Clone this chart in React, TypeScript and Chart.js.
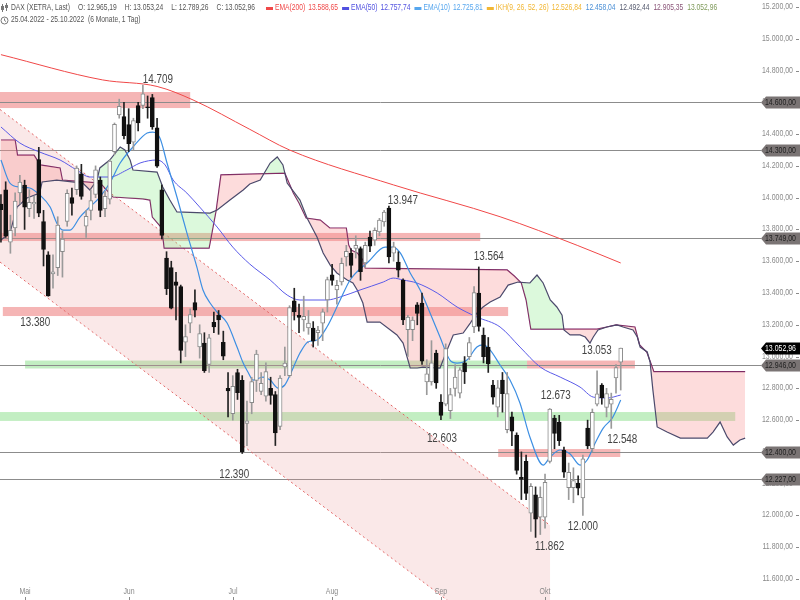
import React, { useEffect, useRef } from "react";
import { Chart, registerables } from "chart.js";

Chart.register(...registerables);

// ---------------- data (DAX daily, 25.04.2022 – 25.10.2022) ----------------
const opens = [
  13960, 14050, 13720, 13810, 14030, 14080, 13930, 13960, 14240, 13850,
  13640, 13520, 13560, 13660, 13850, 14000, 14050, 14150, 13820, 13920,
  14020, 14110, 13930, 13990, 14290, 14520, 14510, 14460, 14350, 14580,
  14580, 14570, 14630, 14440, 14050, 13620, 13560, 13470, 13440, 13090,
  13210, 13340, 13060, 13085, 12950, 13215, 13260, 13090, 12800, 12640,
  12900, 12850, 12580, 12710, 12850, 12780, 12750, 12800, 12760, 12560,
  12935, 12880, 13350, 13260, 13230, 13180, 13180, 13150, 13210, 13356,
  13515, 13420, 13470, 13627, 13650, 13680, 13680, 13590, 13752, 13733,
  13785, 13847, 13935, 13650, 13595, 13482, 13170, 13170, 13325, 13337,
  12840, 12840, 13022, 12714, 12700, 12660, 12800, 12770, 12960, 13000,
  13186, 13400, 13136, 13060, 12820, 12682, 12852, 12540, 12620, 12506,
  12240, 12340, 12015, 12130, 11990, 11990, 12340, 12613, 12588, 12412,
  12175, 12175, 12204, 12110, 12550, 12420, 12700, 12820, 12680, 12700,
  12865, 12965.19,
];
const highs = [
  14020, 14100, 13890, 14030, 14140, 14110, 14050, 14010, 14317, 13920,
  13660, 13640, 13880, 13790, 14050, 14060, 14200, 14210, 13920, 14050,
  14200, 14130, 14040, 14240, 14470, 14620, 14600, 14560, 14500, 14600,
  14709, 14640, 14650, 14500, 14080, 13660, 13600, 13530, 13450, 13200,
  13300, 13420, 13200, 13150, 13140, 13280, 13290, 13160, 12900, 12880,
  12920, 12880, 12720, 12870, 13040, 12900, 12960, 12870, 12780, 12880,
  13060, 13320, 13430, 13330, 13380, 13290, 13220, 13190, 13300, 13500,
  13580, 13480, 13620, 13700, 13680, 13760, 13690, 13720, 13790, 13810,
  13870, 13920, 13947, 13720, 13660, 13490, 13260, 13250, 13340, 13400,
  12980, 13100, 13040, 12760, 13080, 12800, 12950, 12930, 13000, 13120,
  13440, 13564, 13180, 13120, 12850, 12850, 12900, 12900, 12650, 12520,
  12400, 12380, 12200, 12180, 12180, 12260, 12673, 12630, 12630, 12430,
  12330, 12300, 12250, 12380, 12600, 12670, 12910, 12830, 12800, 12770,
  12950, 13053.24,
];
const lows = [
  13720, 13750, 13650, 13760, 13960, 13800, 13880, 13870, 13880, 13570,
  13380, 13430, 13510, 13500, 13820, 13890, 14020, 13990, 13750, 13860,
  14000, 13880, 13880, 13960, 14270, 14500, 14370, 14290, 14300, 14420,
  14560, 14500, 14430, 14190, 13740, 13390, 13300, 13230, 12960, 13000,
  13150, 13250, 12990, 12900, 12900, 13150, 13140, 12980, 12620, 12600,
  12730, 12390, 12440, 12640, 12780, 12760, 12720, 12700, 12440, 12540,
  12880, 12870, 13230, 13150, 13160, 13140, 13060, 13070, 13100, 13280,
  13450, 13330, 13450, 13570, 13500, 13620, 13480, 13560, 13660, 13700,
  13760, 13820, 13590, 13600, 13500, 13200, 13000, 13100, 13200, 12950,
  12760, 12820, 12800, 12603, 12690, 12610, 12750, 12740, 12830, 12980,
  13150, 13160, 12960, 12900, 12700, 12620, 12650, 12520, 12440, 12260,
  12100, 12100, 11900, 11862, 11880, 11920, 12330, 12420, 12440, 12240,
  12100, 12080, 12130, 12000, 12420, 12400, 12690, 12700, 12620, 12548,
  12770, 12789.26,
];
const closes = [
  13924, 13757, 13794, 13979, 14098, 13940, 13970, 13971, 13902, 13674,
  13381, 13534, 13828, 13739, 14027, 13964, 14186, 14008, 13882, 13981,
  14175, 13920, 14008, 14231, 14462, 14575, 14390, 14340, 14485, 14470,
  14653, 14566, 14446, 14198, 13762, 13427, 13304, 13447, 13038, 13126,
  13265, 13292, 13144, 12912, 13118, 13186, 13231, 13003, 12784, 12813,
  12773, 12401, 12595, 12843, 13015, 12832, 12905, 12756, 12519, 12864,
  12959, 13308, 13281, 13246, 13253, 13210, 13097, 13166, 13282, 13484,
  13479, 13449, 13587, 13662, 13573, 13700, 13534, 13700, 13694, 13795,
  13859, 13910, 13627, 13690, 13544, 13230, 13249, 13230, 13271, 12971,
  12892, 12961, 12834, 12630, 13050, 12761, 12871, 12916, 12904, 13088,
  13402, 13189, 13000, 12956, 12745, 12803, 12767, 12767, 12531, 12284,
  12227, 12139, 12183, 11976, 12114, 12209, 12670, 12517, 12471, 12273,
  12272, 12219, 12172, 12356, 12438, 12649, 12766, 12741, 12767, 12731,
  12931, 13052.96,
];

const monthIdx = [5, 27, 49, 70, 93, 115];
const monthNames = ["Mai", "Jun", "Jul", "Aug", "Sep", "Okt"];
const yTickValues = [
  15200, 15000, 14800, 14600, 14400, 14200, 14000, 13800, 13600, 13400,
  13200, 13000, 12800, 12600, 12400, 12200, 12000, 11800, 11600,
];

const ema200Idx = [0, 21.5, 33, 40.6, 52.6, 61, 83, 105.5, 121.8, 131];
const ema200Val = [14900, 14741, 14700, 14615, 14430, 14300, 14080, 13880, 13700, 13589];

const ema50Idx = [0, 4, 8.2, 12.5, 16, 18.8, 23, 26.6, 29.4, 33, 34.7, 36.4, 39.3, 42, 45.7, 49, 52.6, 56.9, 60.5, 63.2, 68.9, 71.7, 75.9, 80.8, 82.9, 85, 87.9, 92.2, 96.4, 100.6, 105.5, 109.7, 114, 118.2, 122.4, 125.2, 128.1, 131];
const ema50Val = [14445, 14344, 14287, 14237, 14174, 14130, 14130, 14174, 14218, 14237, 14206, 14111, 14029, 13941, 13815, 13689, 13582, 13482, 13387, 13356, 13356, 13375, 13419, 13469, 13494, 13482, 13463, 13400, 13312, 13249, 13186, 13060, 12934, 12871, 12808, 12745, 12739, 12758];

const ema10Idx = [0, 1.9, 4, 6.1, 8.2, 10.4, 11.8, 13.1, 14.6, 16.7, 18.8, 20.9, 23, 25.2, 27.9, 30.9, 32.1, 33.6, 35.1, 37.2, 39.3, 41.4, 42.7, 44.2, 45.7, 47.8, 49.9, 51.2, 52.2, 53.3, 55.4, 56.9, 58.6, 60, 61.1, 63.2, 64.9, 66.8, 68.9, 71.7, 73.8, 77.6, 81.2, 82.9, 84.4, 86.5, 88.6, 90.7, 92.8, 94.9, 96.4, 98.5, 100.6, 101.9, 103.4, 105.5, 107.6, 109.7, 111.8, 114.6, 116.1, 118.2, 120.3, 122.4, 123.9, 125.6, 127.3, 129.2, 131];
const ema10Val = [14237, 14092, 14067, 14061, 14017, 13941, 13840, 13796, 13796, 13878, 13941, 14004, 14092, 14218, 14319, 14407, 14413, 14375, 14218, 14004, 13778, 13564, 13419, 13337, 13280, 13211, 13060, 12959, 12903, 12852, 12871, 12852, 12802, 12821, 12884, 13022, 13092, 13104, 13186, 13356, 13482, 13595, 13689, 13689, 13652, 13526, 13419, 13274, 13123, 12978, 12959, 12978, 13060, 13073, 13041, 12947, 12852, 12708, 12494, 12317, 12368, 12412, 12387, 12317, 12349, 12456, 12550, 12613, 12726];

// Ichimoku cloud (Senkou Span A / B, shifted 26 days ahead)
const spanAIdx = [0, 1.9, 3.4, 5.5, 8.2, 8.7, 11.8, 17.3, 18.8, 20.3, 20.9, 23, 25.2, 26.2, 27.3, 27.9, 33, 34.2, 35.7, 37.2, 44.2, 45.7, 48.4, 51.2, 52.6, 54.8, 56.9, 58.4, 59.6, 60.5, 63.2, 64.7, 66.8, 68.1, 69.6, 71, 73.2, 74.4, 75.3, 76.5, 77.4, 80.1, 83.7, 85, 86.5, 88, 89.2, 92.8, 94.3, 95.6, 97.7, 99.2, 100.6, 101.9, 103.4, 105.5, 107.2, 109.3, 111.8, 113.3, 114.6, 116.1, 117.5, 118.6, 119, 120.3, 122.4, 123.5, 124.5, 125.2, 126.2, 128.1, 130.2, 131.5, 133.6, 134.5, 135.1, 136.6, 137.2, 137.8, 138.7, 140.8, 143.6, 149.3, 150.5, 152, 153.5, 154.8, 156.2, 157.3];
const spanAVal = [13734, 13778, 13941, 13998, 14029, 14099, 14111, 14092, 14048, 14111, 14187, 14237, 14319, 14300, 14237, 14174, 14161, 14067, 13985, 13910, 13903, 13922, 13985, 14048, 14086, 14111, 14218, 14256, 14206, 14092, 13985, 13872, 13752, 13652, 13576, 13526, 13482, 13463, 13419, 13337, 13217, 13217, 13136, 13085, 12928, 12928, 12934, 12928, 13041, 13136, 13148, 13211, 13274, 13312, 13343, 13375, 13450, 13469, 13463, 13513, 13463, 13356, 13312, 13261, 13167, 13136, 13136, 13123, 13085, 13123, 13167, 13186, 13199, 13186, 13167, 13123, 13060, 13029, 12966, 12789, 12557, 12525, 12487, 12487, 12525, 12588, 12494, 12443, 12475, 12487];
const spanBIdx = [0, 3, 3.5, 7, 8.3, 12.5, 13, 21, 23.7, 30, 31.5, 32, 34, 34.5, 44, 45.5, 46.5, 60, 61.8, 63, 64.5, 67.5, 69.5, 73, 73.5, 74, 75.3, 76.5, 77, 107, 108.5, 110, 111, 112, 119, 126, 128, 130, 134, 135, 136.5, 137.5, 138, 157.3];
const spanBVal = [14363, 14363, 14268, 14268, 14206, 14187, 14111, 14092, 14004, 13992, 13985, 13878, 13809, 13683, 13683, 13922, 14143, 14155, 14029, 13966, 13872, 13859, 13809, 13809, 13702, 13671, 13652, 13608, 13557, 13545, 13507, 13463, 13356, 13173, 13173, 13173, 13186, 13199, 13186, 13073, 13029, 12947, 12905, 12905];

// descending trend channel
const channelIdx = [-0.2, 116.1];
const channelUpper = [14555, 11937];
const channelLower = [13595, 10977];

// horizontal levels (with price tags) and last price
const levelValues = [14600, 14300, 13749, 12946, 12400, 12227];
const lastPrice = 13052.96;

// support / resistance zones
const redZoneFrom = [-0.2, -0.2, 0.4, 111.2, 105.1];
const redZoneTo = [40, 101.3, 107.2, 134, 130.9];
const redZoneLo = [14564, 13727, 13255, 12925, 12368];
const redZoneHi = [14665, 13778, 13312, 12975, 12418];
const greenZoneFrom = [5.1, -0.2];
const greenZoneTo = [111.2, 155.2];
const greenZoneLo = [12925, 12595];
const greenZoneHi = [12975, 12651];

// marked highs / lows
const markIdx = [30, 10, 51, 82, 101, 93, 116, 131, 129, 123, 113];
const markIsHigh = [true, false, false, true, true, false, true, true, false, false, false];

// header texts
const headerItems: [string, string][] = [
  ["DAX (XETRA, Last)", "#555"],
  ["O: 12.965,19", "#555"],
  ["H: 13.053,24", "#555"],
  ["L: 12.789,26", "#555"],
  ["C: 13.052,96", "#555"],
];
const legendItems: { marker: string | null; parts: [string, string][] }[] = [
  { marker: "#f04848", parts: [["EMA(200)", "#f04848"], ["13.588,65", "#f04848"]] },
  { marker: "#5050e0", parts: [["EMA(50)", "#5050e0"], ["12.757,74", "#5050e0"]] },
  { marker: "#56a6ee", parts: [["EMA(10)", "#56a6ee"], ["12.725,81", "#56a6ee"]] },
  { marker: "#f2b632", parts: [["IKH(9, 26, 52, 26)", "#f2b632"], ["12.526,84", "#f2b632"]] },
  { marker: null, parts: [["12.458,04", "#4a8fd6"]] },
  { marker: null, parts: [["12.492,44", "#555a6e"]] },
  { marker: null, parts: [["12.905,35", "#8a5578"]] },
  { marker: null, parts: [["13.052,96", "#7f9a5a"]] },
];
const rangeText = "25.04.2022 - 25.10.2022  (6 Monate, 1 Tag)";

// ---------------- helpers ----------------
const fmt = (v: number, dec = 2) => {
  const s = v.toFixed(dec);
  const [i, d] = s.split(".");
  const ii = i.replace(/\B(?=(\d{3})+(?!\d))/g, ".");
  return d ? ii + "," + d : ii;
};
const pts = (xs: number[], ys: number[]) => xs.map((x, i) => ({ x, y: ys[i] }));

let narrowOK: boolean | null = null;
function hasNarrow(ctx: CanvasRenderingContext2D) {
  if (narrowOK === null) {
    ctx.save();
    ctx.font = "20px 'Liberation Sans Narrow', monospace";
    const a = ctx.measureText("15.200,00 Mai DAX").width;
    ctx.font = "20px monospace";
    const b = ctx.measureText("15.200,00 Mai DAX").width;
    ctx.restore();
    narrowOK = Math.abs(a - b) > 0.5;
  }
  return narrowOK;
}
function textWidth(ctx: CanvasRenderingContext2D, s: string, size: number) {
  ctx.save();
  let w;
  if (hasNarrow(ctx)) {
    ctx.font = `${size}px 'Liberation Sans Narrow'`;
    w = ctx.measureText(s).width;
  } else {
    ctx.font = `${size}px 'Liberation Sans', Arial, sans-serif`;
    w = ctx.measureText(s).width * 0.82;
  }
  ctx.restore();
  return w;
}
function drawText(
  ctx: CanvasRenderingContext2D,
  s: string,
  x: number,
  y: number,
  size: number,
  color: string,
  align: CanvasTextAlign = "left"
) {
  ctx.save();
  ctx.fillStyle = color;
  ctx.textBaseline = "middle";
  ctx.textAlign = align;
  if (hasNarrow(ctx)) {
    ctx.font = `${size}px 'Liberation Sans Narrow'`;
    ctx.fillText(s, x, y);
  } else {
    ctx.font = `${size}px 'Liberation Sans', Arial, sans-serif`;
    ctx.translate(x, y);
    ctx.scale(0.82, 1);
    ctx.fillText(s, 0, 0);
  }
  ctx.restore();
}

const overlayPlugin = {
  id: "overlay",
  beforeDatasetsDraw(chart: any) {
    const { ctx, chartArea } = chart;
    const xs = chart.scales.x;
    const ys = chart.scales.y;
    ctx.save();
    ctx.beginPath();
    ctx.rect(chartArea.left, chartArea.top, chartArea.right - chartArea.left, chartArea.bottom - chartArea.top);
    ctx.clip();
    const zone = (f: number, t: number, lo: number, hi: number, col: string) => {
      const x0 = xs.getPixelForValue(f);
      const x1 = xs.getPixelForValue(t);
      const y0 = ys.getPixelForValue(hi);
      const y1 = ys.getPixelForValue(lo);
      ctx.fillStyle = col;
      ctx.fillRect(x0, y0, x1 - x0, y1 - y0);
    };
    greenZoneFrom.forEach((f, i) => zone(f, greenZoneTo[i], greenZoneLo[i], greenZoneHi[i], "rgba(110,215,110,0.42)"));
    redZoneFrom.forEach((f, i) => zone(f, redZoneTo[i], redZoneLo[i], redZoneHi[i], "rgba(232,90,90,0.45)"));
    ctx.restore();
    // level lines
    ctx.save();
    ctx.strokeStyle = "#8c8c8c";
    ctx.lineWidth = 1;
    levelValues.forEach((v) => {
      const y = Math.round(ys.getPixelForValue(v)) + 0.5;
      ctx.beginPath();
      ctx.moveTo(chartArea.left, y);
      ctx.lineTo(761, y);
      ctx.stroke();
    });
    ctx.restore();
  },
  afterDatasetsDraw(chart: any) {
    const { ctx, chartArea } = chart;
    const xs = chart.scales.x;
    const ys = chart.scales.y;
    const W = chart.width;

    // marks
    const markDx = [15, -13, -8, 14, 10, 1, 6, -24, 11, 0, 14];
    const markDy = [-5, 27, 21, -5, -10, 19, -13, 3, 11, 11, 9];
    markIdx.forEach((idx, k) => {
      const v = markIsHigh[k] ? highs[idx] : lows[idx];
      const x = xs.getPixelForValue(idx) + markDx[k];
      const y = ys.getPixelForValue(v) + markDy[k];
      drawText(ctx, fmt(v, 0), x, y, 12, "#444", "center");
    });

    // y axis labels
    yTickValues.forEach((v) => {
      const y = Math.round(ys.getPixelForValue(v));
      drawText(ctx, fmt(v), 793, y, 8.5, "#8a8a8a", "right");
      ctx.save();
      ctx.fillStyle = "#8a8a8a";
      ctx.fillRect(796, y, 3, 1);
      ctx.restore();
    });

    // price tags
    const tag = (v: number, fill: string, color: string) => {
      const y = Math.round(ys.getPixelForValue(v)) + 0.5;
      const h = 12;
      ctx.save();
      ctx.fillStyle = fill;
      ctx.beginPath();
      ctx.moveTo(761, y);
      ctx.lineTo(766, y - h / 2);
      ctx.lineTo(W, y - h / 2);
      ctx.lineTo(W, y + h / 2);
      ctx.lineTo(766, y + h / 2);
      ctx.closePath();
      ctx.fill();
      ctx.restore();
      drawText(ctx, fmt(v), 796, y, 8.5, color, "right");
    };
    levelValues.forEach((v) => tag(v, "#7a7474", "#202020"));
    tag(lastPrice, "#000", "#fff");

    // month labels
    monthIdx.forEach((m, k) => {
      const x = Math.round(xs.getPixelForValue(m));
      drawText(ctx, monthNames[k], x, chartArea.bottom - 8, 8.5, "#8a8a8a", "center");
      ctx.save();
      ctx.fillStyle = "#8a8a8a";
      ctx.fillRect(x, chartArea.bottom - 3, 1, 3);
      ctx.restore();
    });

    // header
    ctx.save();
    ctx.strokeStyle = "#777";
    ctx.lineWidth = 1;
    ctx.beginPath();
    ctx.moveTo(2.5, 4); ctx.lineTo(2.5, 12);
    ctx.moveTo(6.5, 3); ctx.lineTo(6.5, 11);
    ctx.stroke();
    ctx.fillStyle = "#777";
    ctx.fillRect(1, 6, 3, 4);
    ctx.fillRect(5, 5, 3, 3);
    ctx.beginPath();
    ctx.arc(4.5, 20.5, 3.5, 0, Math.PI * 2);
    ctx.moveTo(4.5, 18.5); ctx.lineTo(4.5, 20.5); ctx.lineTo(6, 21.5);
    ctx.stroke();
    ctx.restore();

    const size = 8.2;
    let x = 11;
    const y1 = 8;
    headerItems.forEach(([s, c]) => {
      drawText(ctx, s, x, y1, size, c);
      x += textWidth(ctx, s, size) + 8;
    });
    x += 3;
    legendItems.forEach((it) => {
      if (it.marker) {
        ctx.save();
        ctx.fillStyle = it.marker;
        ctx.fillRect(x, y1 - 1, 7, 3);
        ctx.restore();
        x += 9;
      }
      it.parts.forEach(([s, c]) => {
        drawText(ctx, s, x, y1, size, c);
        x += textWidth(ctx, s, size) + 3;
      });
      x += 1;
    });
    drawText(ctx, rangeText, 11, 20, size, "#555");
  },
};

export default function App() {
  const ref = useRef<HTMLCanvasElement | null>(null);
  useEffect(() => {
    const canvas = ref.current;
    if (!canvas) return;
    const up = closes.map((c, i) => c >= opens[i]);
    const bodies = opens.map((o, i) => ({ x: i, y: [Math.min(o, closes[i]), Math.max(o, closes[i])] }));
    const wicks = lows.map((l, i) => ({ x: i, y: [l, highs[i]] }));
    const chart = new Chart(canvas, {
      type: "bar",
      data: {
        datasets: [
          {
            type: "bar",
            label: "Body",
            data: bodies as any,
            backgroundColor: up.map((u) => (u ? "#ffffff" : "#111111")),
            borderColor: up.map((u) => (u ? "#8a8a8a" : "#111111")),
            borderWidth: 1,
            borderSkipped: false,
            barThickness: 4,
            minBarLength: 1,
            grouped: false,
            order: 0,
          } as any,
          {
            type: "bar",
            label: "Wick",
            data: wicks as any,
            backgroundColor: up.map((u) => (u ? "#9a9a9a" : "#222222")),
            borderWidth: 0,
            barThickness: 1,
            grouped: false,
            order: 1,
          } as any,
          {
            type: "line",
            label: "EMA(10)",
            data: pts(ema10Idx, ema10Val),
            borderColor: "#3d8fe3",
            borderWidth: 1.2,
            pointRadius: 0,
            cubicInterpolationMode: "monotone",
            fill: false,
            order: 2,
          } as any,
          {
            type: "line",
            label: "EMA(50)",
            data: pts(ema50Idx, ema50Val),
            borderColor: "#5a5ae8",
            borderWidth: 1,
            pointRadius: 0,
            cubicInterpolationMode: "monotone",
            fill: false,
            order: 3,
          } as any,
          {
            type: "line",
            label: "EMA(200)",
            data: pts(ema200Idx, ema200Val),
            borderColor: "#f04848",
            borderWidth: 1,
            pointRadius: 0,
            cubicInterpolationMode: "monotone",
            fill: false,
            order: 4,
          } as any,
          {
            type: "line",
            label: "Senkou A",
            data: pts(spanAIdx, spanAVal),
            borderColor: "#4c4a6c",
            borderWidth: 1.2,
            pointRadius: 0,
            tension: 0,
            fill: { target: "+1", above: "rgba(140,235,140,0.30)", below: "rgba(250,140,140,0.30)" },
            order: 5,
          } as any,
          {
            type: "line",
            label: "Senkou B",
            data: pts(spanBIdx, spanBVal),
            borderColor: "#7a1f62",
            borderWidth: 1.2,
            pointRadius: 0,
            tension: 0,
            fill: false,
            order: 6,
          } as any,
          {
            type: "line",
            label: "Channel top",
            data: pts(channelIdx, channelUpper),
            borderColor: "#e26262",
            borderWidth: 1,
            borderDash: [2, 3],
            pointRadius: 0,
            fill: { target: "+1", above: "rgba(232,150,150,0.22)", below: "rgba(232,150,150,0.22)" },
            order: 7,
          } as any,
          {
            type: "line",
            label: "Channel bottom",
            data: pts(channelIdx, channelLower),
            borderColor: "#e26262",
            borderWidth: 1,
            borderDash: [2, 3],
            pointRadius: 0,
            fill: false,
            order: 8,
          } as any,
        ],
      },
      options: {
        animation: false,
        responsive: false,
        events: [],
        layout: { padding: { left: 0, right: 52, top: 0, bottom: 0 } },
        plugins: { legend: { display: false }, tooltip: { enabled: false } },
        scales: {
          x: { type: "linear", min: -0.2, max: 157.9, display: false, offset: false },
          y: { type: "linear", min: 11468, max: 15244, display: false },
        },
      },
      plugins: [overlayPlugin as any],
    });
    return () => chart.destroy();
  }, []);

  return (
    <div style={{ position: "fixed", left: 0, top: 0, width: 800, height: 600, background: "#fff" }}>
      <canvas ref={ref} width={800} height={600} style={{ width: 800, height: 600, display: "block" }} />
    </div>
  );
}
